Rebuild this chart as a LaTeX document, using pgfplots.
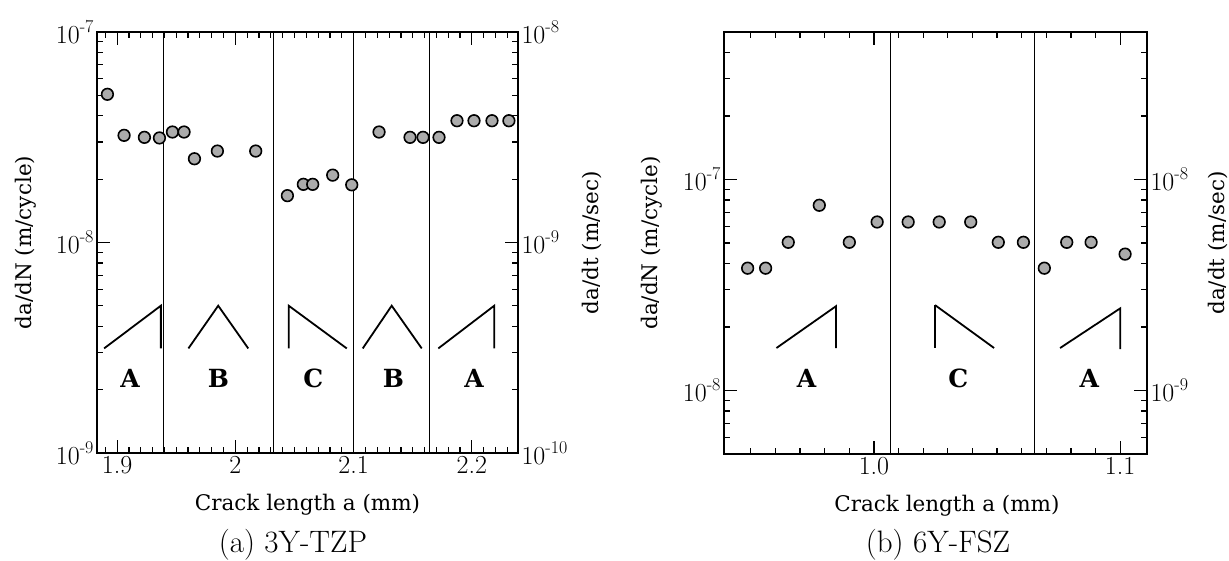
\documentclass[border=0pt]{standalone}
\usepackage{fontspec}
\newfontfamily\sch{DejaVu Serif}
\usepackage{pgfplots}
\pgfplotsset{compat=1.18}
\newcommand{\tp}[1]{10\raisebox{0.42em}{\fontsize{18}{18}\selectfont #1}}
\pgfplotsset{
 every axis/.append style={
  scale only axis, tick align=inside,
  axis line style={line width=1.6pt},
  major tick length=13pt, minor tick length=6pt,
  tick style={line width=1.2pt, black},
  tick label style={font=\fontsize{26}{26}\selectfont},
  label style={font=\sch\fontsize{21.5}{21.5}\selectfont},
 },
}
\tikzset{
 mydots/.style={mark=*, mark size=5.8pt,
   mark options={fill=black!33, draw=black, line width=1.6pt}},
 mysep/.style={black, line width=0.9pt},
 myshape/.style={black, line width=1.8pt},
 mylab/.style={font=\sch\bfseries\fontsize{25}{25}\selectfont},
}
\pgfplotstableread{
x y
1.8918 5.06e-8
1.9059 3.23e-8
1.9231 3.16e-8
1.9358 3.14e-8
1.9468 3.35e-8
1.9566 3.35e-8
1.9654 2.50e-8
1.9848 2.72e-8
2.0172 2.72e-8
2.0440 1.67e-8
2.0575 1.89e-8
2.0654 1.89e-8
2.0823 2.09e-8
2.0984 1.88e-8
2.1215 3.35e-8
2.1477 3.16e-8
2.1587 3.16e-8
2.1722 3.16e-8
2.1874 3.79e-8
2.2018 3.79e-8
2.2170 3.79e-8
2.2313 3.79e-8
}\tza
\pgfplotstableread{
x y
0.9487 3.80e-8
0.9560 3.80e-8
0.9652 5.04e-8
0.9778 7.55e-8
0.9900 5.04e-8
1.0013 6.29e-8
1.0139 6.29e-8
1.0265 6.29e-8
1.0393 6.29e-8
1.0505 5.04e-8
1.0607 5.04e-8
1.0692 3.80e-8
1.0783 5.04e-8
1.0882 5.04e-8
1.1020 4.43e-8
}\fsz
\begin{document}
\begin{tikzpicture}
\useasboundingbox (0,0) rectangle (1229pt,-561pt);
% ---------------- panel (a)
\begin{axis}[ymode=log, at={(97pt,-453pt)}, anchor=south west, width=421pt, height=421pt,
  xmin=1.883, xmax=2.239, ymin=1e-9, ymax=1e-7,
  xtick={1.9,2,2.1,2.2}, xticklabels={1.9,2,2.1,2.2},
  minor xtick={1.89,1.91,1.92,1.93,1.94,1.95,1.96,1.97,1.98,1.99,2.01,2.02,2.03,2.04,2.05,2.06,2.07,2.08,2.09,2.11,2.12,2.13,2.14,2.15,2.16,2.17,2.18,2.19,2.21,2.22,2.23},
  xtick pos=both, ytick pos=left,
  ytick={1e-9,1e-8,1e-7}, yticklabels={\tp{-9},\tp{-8},\tp{-7}},
  minor ytick={2e-9,3e-9,4e-9,5e-9,6e-9,7e-9,8e-9,9e-9,2e-8,3e-8,4e-8,5e-8,6e-8,7e-8,8e-8,9e-8},
  xlabel={Crack length a (mm)}, ylabel={da/dN (m/cycle)},
  xlabel style={at={(axis description cs:0.5,0)}, anchor=center, yshift=-52pt},
  ylabel style={at={(axis description cs:-0.1686,0.5)}, anchor=center},
]
\addplot[mysep] coordinates {(1.939,1e-9) (1.939,1e-7)};
\addplot[mysep] coordinates {(2.032,1e-9) (2.032,1e-7)};
\addplot[mysep] coordinates {(2.1,1e-9) (2.1,1e-7)};
\addplot[mysep] coordinates {(2.1645,1e-9) (2.1645,1e-7)};
\addplot[myshape] coordinates {(1.889,3.14e-9) (1.937,5.01e-9) (1.937,3.14e-9)};
\addplot[myshape] coordinates {(1.9603,3.14e-9) (1.9855,5.01e-9) (2.0109,3.14e-9)};
\addplot[myshape] coordinates {(2.0451,3.14e-9) (2.0451,5.01e-9) (2.0942,3.14e-9)};
\addplot[myshape] coordinates {(2.1077,3.14e-9) (2.1322,5.01e-9) (2.1576,3.14e-9)};
\addplot[myshape] coordinates {(2.1716,3.14e-9) (2.2189,5.01e-9) (2.2189,3.14e-9)};
\addplot[only marks, mydots] table[x=x,y=y] {\tza};
\node[mylab] at (axis cs:1.911,2.26e-9) {A};
\node[mylab] at (axis cs:1.9856,2.26e-9) {B};
\node[mylab] at (axis cs:2.066,2.26e-9) {C};
\node[mylab] at (axis cs:2.1336,2.26e-9) {B};
\node[mylab] at (axis cs:2.2019,2.26e-9) {A};
\end{axis}
\begin{axis}[ymode=log, at={(97pt,-453pt)}, anchor=south west, width=421pt, height=421pt,
  xmin=1.883, xmax=2.239, ymin=1e-10, ymax=1e-8,
  axis y line*=right, axis x line=none,
  ytick={1e-10,1e-9,1e-8}, yticklabels={\tp{-10},\tp{-9},\tp{-8}},
  minor ytick={2e-10,3e-10,4e-10,5e-10,6e-10,7e-10,8e-10,9e-10,2e-9,3e-9,4e-9,5e-9,6e-9,7e-9,8e-9,9e-9},
  ylabel={da/dt (m/sec)},
  ylabel style={at={(axis description cs:1.1758,0.5)}, anchor=center},
]
\addplot[draw=none] coordinates {(2,1e-9)};
\end{axis}
% ---------------- panel (b)
\begin{axis}[ymode=log, at={(724pt,-454pt)}, anchor=south west, width=423pt, height=422pt,
  xmin=0.9391, xmax=1.1109, ymin=5e-9, ymax=5e-7,
  xtick={1.0,1.1}, xticklabels={1.0,1.1},
  minor xtick={0.95,0.96,0.97,0.98,0.99,1.01,1.02,1.03,1.04,1.05,1.06,1.07,1.08,1.09},
  xtick pos=both, ytick pos=left,
  ytick={1e-8,1e-7}, yticklabels={\tp{-8},\tp{-7}},
  minor ytick={6e-9,7e-9,8e-9,9e-9,2e-8,3e-8,4e-8,5e-8,6e-8,7e-8,8e-8,9e-8,2e-7,3e-7,4e-7},
  xlabel={Crack length a (mm)}, ylabel={da/dN (m/cycle)},
  xlabel style={at={(axis description cs:0.527,0)}, anchor=center, yshift=-52pt},
  ylabel style={at={(axis description cs:-0.170,0.5)}, anchor=center},
]
\addplot[mysep] coordinates {(1.0068,5e-9) (1.0068,5e-7)};
\addplot[mysep] coordinates {(1.0652,5e-9) (1.0652,5e-7)};
\addplot[myshape] coordinates {(0.9604,1.59e-8) (0.9846,2.51e-8) (0.9846,1.59e-8)};
\addplot[myshape] coordinates {(1.0248,2.54e-8) (1.0248,1.59e-8)};
\addplot[myshape] coordinates {(1.0248,2.54e-8) (1.0488,1.59e-8)};
\addplot[myshape] coordinates {(1.0756,1.59e-8) (1.1,2.45e-8) (1.1,1.57e-8)};
\addplot[only marks, mydots] table[x=x,y=y] {\fsz};
\node[mylab] at (axis cs:0.9726,1.14e-8) {A};
\node[mylab] at (axis cs:1.0343,1.14e-8) {C};
\node[mylab] at (axis cs:1.0875,1.14e-8) {A};
\end{axis}
\begin{axis}[ymode=log, at={(724pt,-454pt)}, anchor=south west, width=423pt, height=422pt,
  xmin=0.9391, xmax=1.1109, ymin=5e-10, ymax=5e-8,
  axis y line*=right, axis x line=none,
  ytick={1e-9,1e-8}, yticklabels={\tp{-9},\tp{-8}},
  minor ytick={6e-10,7e-10,8e-10,9e-10,2e-9,3e-9,4e-9,5e-9,6e-9,7e-9,8e-9,9e-9,2e-8,3e-8,4e-8},
  ylabel={da/dt (m/sec)},
  ylabel style={at={(axis description cs:1.168,0.5)}, anchor=center},
]
\addplot[draw=none] coordinates {(1,1e-9)};
\end{axis}
\node[font=\fontsize{31}{31}\selectfont] at (293pt,-545pt) {(a) 3Y-TZP};
\node[font=\fontsize{31}{31}\selectfont] at (938pt,-545pt) {(b) 6Y-FSZ};
\end{tikzpicture}
\end{document}
